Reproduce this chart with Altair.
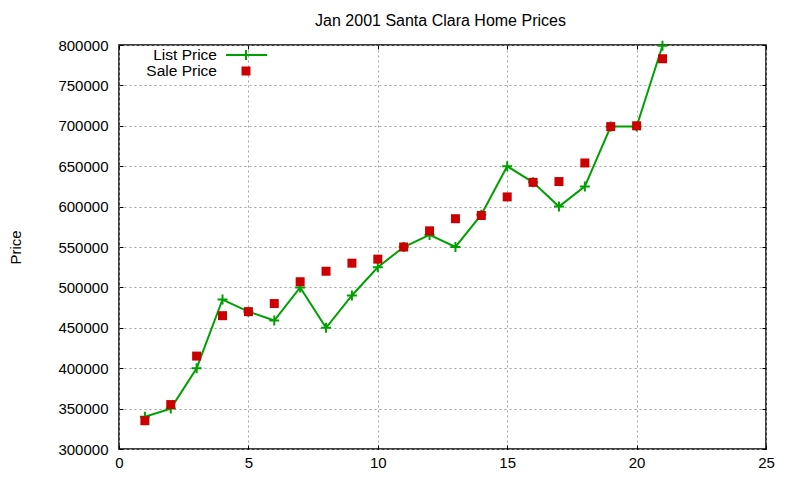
import altair as alt
import pandas as pd

days = list(range(1, 22))
list_price = [340000, 350000, 400000, 485000, 470000, 459000, 500000, 450000, 490000, 525000,
              550000, 565000, 550000, 590000, 650000, 630000, 600000, 625000, 699000, 699000, 799000]
sale_price = [335000, 355000, 415000, 465000, 470000, 480000, 507000, 520000, 530000, 535000,
              550000, 570000, 585000, 589000, 612000, 630000, 631000, 654000, 699000, 700000, 783000]
series = ["List Price", "Sale Price"]

df = pd.DataFrame({"day": days, "list": list_price, "sale": sale_price})

FONT = "Liberation Sans"
GREEN = "#00a000"
RED = "#cc0000"
PLUS = "M-1,0L1,0M0,-1L0,1"

xs = alt.Scale(domain=[0, 25], nice=False, zero=False)
ys = alt.Scale(domain=[300000, 800000], nice=False, zero=False)

grid_axis = dict(grid=True, gridColor="#a0a0a0", gridDash=[2, 3], gridWidth=1,
                 ticks=False, domain=False, labelFlush=False, labelFont=FONT, labelFontSize=15,
                 labelColor="black", titleFont=FONT, titleFontSize=15,
                 titleFontWeight="normal", titleColor="black")

base = alt.Chart(df)

line = base.mark_line(color=GREEN, strokeWidth=2).encode(
    x=alt.X("day:Q", scale=xs, axis=alt.Axis(values=[0, 5, 10, 15, 20, 25], title=None,
                                             labelPadding=6, **grid_axis)),
    y=alt.Y("list:Q", scale=ys, axis=alt.Axis(tickCount=10, title="Price", titleAngle=270,
                                              titlePadding=34, labelPadding=11, format="d",
                                              **grid_axis)),
)

plus = base.mark_point(shape=PLUS, color=GREEN, filled=False, strokeWidth=2, size=100, opacity=1).encode(
    x=alt.X("day:Q", scale=xs, axis=None),
    y=alt.Y("list:Q", scale=ys, axis=None),
)

sale = base.mark_square(color=RED, opacity=1, size=81).encode(
    x=alt.X("day:Q", scale=xs, axis=None),
    y=alt.Y("sale:Q", scale=ys, axis=None),
)

tick_axis = dict(labels=False, domain=False, grid=False, ticks=True, tickSize=4,
                 tickColor="black", tickWidth=1, title=None, offset=-4)

ticks_a = base.mark_point(opacity=0).encode(
    x=alt.X("day:Q", scale=xs, axis=alt.Axis(orient="bottom", values=[0, 5, 10, 15, 20, 25], **tick_axis)),
    y=alt.Y("list:Q", scale=ys, axis=alt.Axis(orient="left", tickCount=10, **tick_axis)),
)
ticks_b = base.mark_point(opacity=0).encode(
    x=alt.X("day:Q", scale=xs, axis=alt.Axis(orient="top", values=[0, 5, 10, 15, 20, 25], **tick_axis)),
    y=alt.Y("list:Q", scale=ys, axis=alt.Axis(orient="right", tickCount=10, **tick_axis)),
)

# legend in the upper left, gnuplot style (label then sample)
leg = pd.DataFrame({"label": series})
text_style = dict(align="right", baseline="middle", font=FONT, fontSize=15.5, color="black")
leg_text1 = alt.Chart(leg.iloc[:1]).mark_text(**text_style).encode(
    x=alt.value(98), y=alt.value(10), text="label:N")
leg_text2 = alt.Chart(leg.iloc[1:]).mark_text(**text_style).encode(
    x=alt.value(98), y=alt.value(26), text="label:N")
leg_line = alt.Chart(leg.iloc[:1]).mark_rule(color=GREEN, strokeWidth=2).encode(
    x=alt.value(107), x2=alt.value(148), y=alt.value(10),
)
leg_plus = alt.Chart(leg.iloc[:1]).mark_point(shape=PLUS, color=GREEN, strokeWidth=2, size=100, opacity=1).encode(
    x=alt.value(127), y=alt.value(10),
)
leg_sq = alt.Chart(leg.iloc[1:]).mark_square(color=RED, opacity=1, size=81).encode(
    x=alt.value(127), y=alt.value(26),
)

chart = alt.layer(line, plus, sale, ticks_a, ticks_b,
                  leg_text1, leg_text2, leg_line, leg_plus, leg_sq).resolve_axis(
    x="independent", y="independent"
).properties(
    width=647, height=404,
    autosize="none",
    padding={"left": 111, "top": 37, "right": 26, "bottom": 23},
    title=alt.Title("Jan 2001 Santa Clara Home Prices", font=FONT, fontSize=16,
                    fontWeight="normal", color="black", offset=8, dx=-2),
).configure_view(stroke="black", strokeWidth=1.5)

chart.save("out.html", embed_options={"renderer": "svg", "actions": False})
